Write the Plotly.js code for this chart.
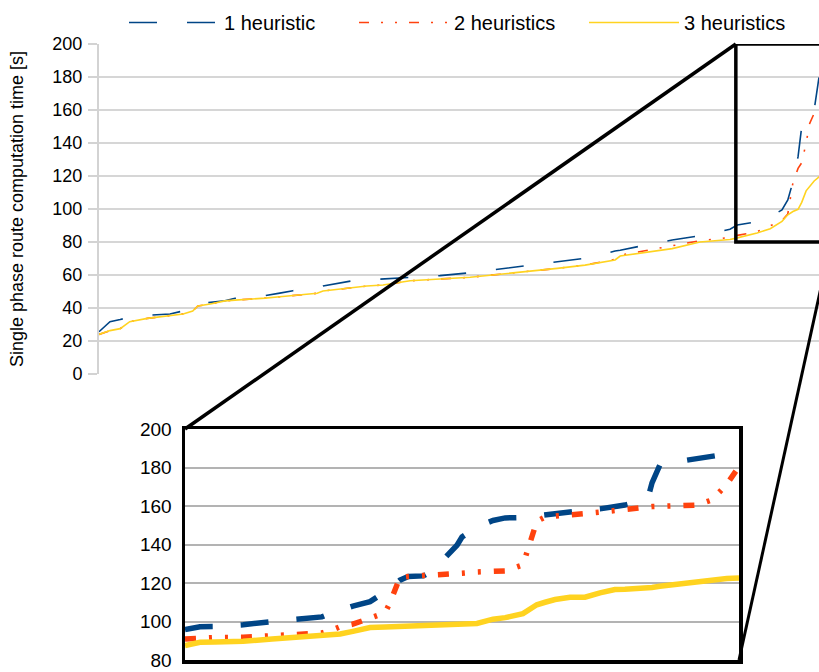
<!DOCTYPE html>
<html>
<head>
<meta charset="utf-8">
<script src="https://cdn.plot.ly/plotly-3.0.1.min.js"></script>
<style>
html,body{margin:0;padding:0;overflow:hidden;background:#ffffff}
#chart{width:840px;height:672px}
</style>
</head>
<body>
<div id="chart"></div>
<script>
// ---------- data ----------
const seriesNames = ['1 heuristic', '2 heuristics', '3 heuristics'];

// main chart: route rank (percent of sorted routes) and computation times [s]
const rank = [0, 1.5, 2.9, 4.2, 6.6, 9.7, 11.5, 12.8, 13.5, 15.2, 17.2, 18.6, 20.2, 22.7, 24.7, 26.5,
  29.8, 30.6, 34.6, 36.6, 38.8, 42.5, 46.6, 50.7, 54.8, 58.5, 62.6, 66.4, 70.5, 71.2, 74.3, 78.3,
  82.1, 86.2, 87.2, 89.9, 91.7, 93.3, 94.1, 94.8, 95.5, 96.0, 96.6, 97.1, 97.7, 98.4, 99.2, 100];
const oneHeuristic = [25.6, 31.7, 33.0, 34.5, 35.6, 36.4, 38.2, 40.5, 42.5, 43.4, 44.4, 45.9, 46.5, 47.5, 49.0, 50.5,
  52.0, 53.3, 56.5, 57.0, 57.6, 58.4, 59.6, 61.4, 63.6, 65.5, 68.1, 70.1, 74.5, 75.0, 77.8, 81.2,
  83.8, 87.7, 90.3, 92.3, 95.5, 99.4, 105.5, 116.5, 131.7, 150.0, 154.0, 156.0, 160.0, 181.0, 185.0, 188.0];
const twoHeuristics = [24.0, 26.3, 27.5, 31.7, 33.7, 35.2, 36.4, 38.2, 41.2, 42.4, 44.3, 44.8, 45.2, 46.0, 46.8, 47.6,
  48.9, 50.3, 52.3, 53.3, 53.9, 56.5, 57.6, 58.6, 60.5, 62.0, 64.0, 66.0, 69.5, 72.0, 74.5, 77.5,
  80.8, 82.8, 84.0, 86.3, 90.0, 93.0, 97.0, 116.0, 124.6, 128.0, 140.0, 152.0, 158.0, 160.0, 166.0, 180.0];
const threeHeuristics = [24.0, 26.3, 27.5, 31.7, 33.7, 35.2, 36.4, 38.2, 41.2, 42.4, 44.3, 44.8, 45.2, 46.0, 46.8, 47.6,
  48.9, 50.3, 52.3, 53.3, 53.9, 56.5, 57.6, 58.6, 60.5, 62.0, 64.0, 66.0, 69.1, 71.5, 73.5, 76.0,
  80.0, 81.5, 82.5, 85.5, 88.0, 92.5, 96.5, 98.5, 99.8, 104.0, 111.0, 114.0, 117.0, 119.6, 121.5, 123.0];

// zoomed inset: slowest routes
const zoomRank = [0, 2.7, 5.4, 10.5, 15.7, 21.3, 24.7, 26.2, 28.0, 30.3, 33.4, 36.1, 37.0, 38.8, 40.3, 43.0,
  45.1, 46.9, 49.1, 50.0, 52.7, 55.6, 57.8, 61.0, 62.3, 63.5, 65.0, 66.8, 69.5, 72.2, 74.9, 77.6,
  79.4, 82.1, 83.6, 84.3, 85.7, 90.3, 92.4, 95.1, 97.8, 100];
const zoomOneHeuristic = [95.8, 97.3, 97.4, 98.3, 100.0, 101.5, 102.4, 104.1, 106.0, 108.0, 110.3, 114.9, 117.0, 121.5, 123.4, 123.7,
  126.8, 133.0, 139.6, 143.9, 149.1, 152.5, 153.8, 154.0, 154.5, 155.0, 155.3, 155.8, 156.6, 157.8, 158.5, 159.5,
  160.5, 162.5, 164.5, 172.0, 181.2, 183.7, 184.5, 185.8, 187.0, 188.4];
const zoomTwoHeuristics = [90.9, 91.4, 91.7, 91.8, 92.5, 93.2, 94.0, 95.2, 97.3, 98.6, 102.1, 104.5, 109.7, 122.9, 123.4, 123.7,
  124.4, 124.8, 125.0, 125.1, 125.7, 126.0, 126.3, 129.4, 141.4, 152.0, 154.3, 154.6, 155.0, 156.1, 156.8, 157.6,
  158.8, 159.6, 159.7, 159.7, 159.8, 159.9, 160.5, 163.1, 171.3, 180.5];
const zoomThreeHeuristics = [87.5, 89.2, 89.4, 89.7, 90.9, 92.0, 93.2, 93.4, 93.5, 94.9, 96.9, 97.2, 97.3, 97.5, 97.6, 97.7,
  98.0, 98.7, 99.0, 99.0, 99.0, 101.2, 102.0, 104.1, 106.5, 108.7, 110.0, 111.4, 112.6, 112.6, 114.9, 116.6,
  116.8, 117.1, 117.5, 117.7, 118.3, 119.8, 120.8, 121.8, 122.3, 122.6];

const mainTicks = [0, 20, 40, 60, 80, 100, 120, 140, 160, 180, 200];
const zoomTicks = [80, 100, 120, 140, 160, 180, 200];
const yTitle = 'Single phase route computation time [s]';

// ---------- layout geometry ----------
const W = 840, H = 672;
const px = v => v / W;
const py = v => 1 - v / H;
const mainXDom = [px(99), px(831)];
const mainYDom = [py(374), py(44)];
const zoomXDom = [px(185), px(739)];
const zoomYDom = [py(660), py(429)];
const mainXRange = [0, 100], mainYRange = [0, 200];
const zoomXRange = [0, 100], zoomYRange = [80, 200];
const zoomBoxX = [87.0, 100], zoomBoxY = [80, 200];

function toPaper(v, dom, rng) { return dom[0] + (v - rng[0]) / (rng[1] - rng[0]) * (dom[1] - dom[0]); }

const colors = ['#004586', '#ff420e', '#ffd320'];
const mainDash = ['28px,30px', '10px,12px,2px,12px,2px,12px', 'solid'];
const zoomDash = ['28px,28px', '11px,13px,3px,13px,3px,13px', 'solid'];
const mainSeries = [oneHeuristic, twoHeuristics, threeHeuristics];
const zoomSeries = [zoomOneHeuristic, zoomTwoHeuristics, zoomThreeHeuristics];

const traces = [];
mainSeries.forEach((ys, i) => traces.push({
  type: 'scatter', mode: 'lines', x: rank, y: ys, name: seriesNames[i],
  xaxis: 'x', yaxis: 'y', legendgroup: 'g' + i,
  line: {color: colors[i], width: 1.6, dash: mainDash[i]}, hoverinfo: 'skip'
}));
zoomSeries.forEach((ys, i) => traces.push({
  type: 'scatter', mode: 'lines', x: zoomRank, y: ys, name: seriesNames[i],
  xaxis: 'x2', yaxis: 'y2', legendgroup: 'g' + i, showlegend: false,
  line: {color: colors[i], width: 5.5, dash: zoomDash[i]}, hoverinfo: 'skip'
}));

const font = 'Liberation Sans, Arial, sans-serif';
const shapes = [
  {type: 'rect', xref: 'x', yref: 'y', x0: zoomBoxX[0], x1: zoomBoxX[1], y0: zoomBoxY[0], y1: zoomBoxY[1],
   line: {color: '#000000', width: 3.5}, layer: 'above'},
  {type: 'line', xref: 'paper', yref: 'paper',
   x0: toPaper(zoomBoxX[0], mainXDom, mainXRange), y0: toPaper(zoomBoxY[1], mainYDom, mainYRange),
   x1: toPaper(zoomXRange[0], zoomXDom, zoomXRange), y1: toPaper(zoomYRange[1], zoomYDom, zoomYRange),
   line: {color: '#000000', width: 3.5}, layer: 'above'},
  {type: 'line', xref: 'paper', yref: 'paper',
   x0: toPaper(zoomBoxX[1], mainXDom, mainXRange), y0: toPaper(zoomBoxY[0], mainYDom, mainYRange),
   x1: toPaper(zoomXRange[1], zoomXDom, zoomXRange), y1: toPaper(zoomYRange[0], zoomYDom, zoomYRange),
   line: {color: '#000000', width: 3}, layer: 'above'}
];

const layout = {
  width: W, height: H,
  margin: {l: 0, r: 0, t: 0, b: 0, autoexpand: false},
  paper_bgcolor: '#ffffff', plot_bgcolor: 'rgba(0,0,0,0)',
  font: {family: font, color: '#000000', size: 18},
  showlegend: true,
  legend: {
    orientation: 'h', xref: 'container', yref: 'container',
    x: px(124), xanchor: 'left', y: py(3), yanchor: 'top',
    font: {family: font, size: 20, color: '#000000'},
    itemwidth: 90, entrywidth: 125, entrywidthmode: 'pixels',
    bgcolor: 'rgba(0,0,0,0)', borderwidth: 0, traceorder: 'normal'
  },
  xaxis: {domain: mainXDom, range: mainXRange, showgrid: false, zeroline: false, showline: false,
    showticklabels: false, ticks: '', fixedrange: true},
  yaxis: {domain: mainYDom, range: mainYRange, tickmode: 'array', tickvals: mainTicks,
    ticktext: mainTicks.map(String),
    showgrid: true, gridcolor: '#d6d6d6', gridwidth: 1.5, zeroline: false,
    showline: true, linecolor: '#d3d3d3', linewidth: 2,
    ticks: 'outside', ticklen: 9, tickwidth: 1.5, tickcolor: '#d3d3d3', ticklabelstandoff: 2,
    tickfont: {family: font, size: 18, color: '#000000'},
    title: {text: yTitle, font: {family: font, size: 18, color: '#000000'}, standoff: 24},
    fixedrange: true},
  xaxis2: {domain: zoomXDom, range: zoomXRange, anchor: 'y2', showgrid: false, zeroline: false,
    showticklabels: false, ticks: '', showline: true, linecolor: '#000000', linewidth: 3.5, mirror: true,
    fixedrange: true},
  yaxis2: {domain: zoomYDom, range: zoomYRange, anchor: 'x2', tickmode: 'array', tickvals: zoomTicks,
    ticktext: zoomTicks.map(String), ticklabeloverflow: 'allow',
    showgrid: true, gridcolor: '#b3b3b3', gridwidth: 2, zeroline: false,
    showline: true, linecolor: '#000000', linewidth: 3.5, mirror: true, ticks: '', ticklabelstandoff: 6,
    tickfont: {family: font, size: 19, color: '#000000'}, fixedrange: true},
  shapes: shapes
};

Plotly.newPlot('chart', traces, layout, {staticPlot: true, displayModeBar: false});
</script>
</body>
</html>
